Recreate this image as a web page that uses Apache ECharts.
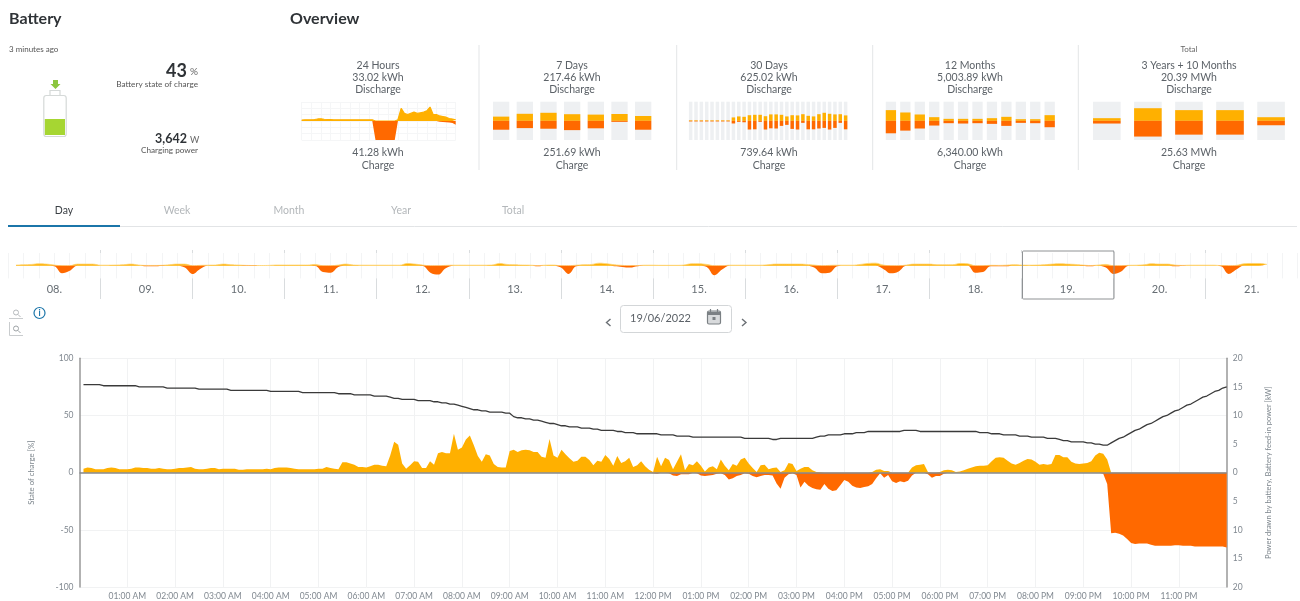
<!DOCTYPE html>
<html>
<head lang="en">
    <meta charset="UTF-8">
    <title>Battery</title>
    <style>
        html, body { margin: 0; padding: 0; background: #fff; }
        #main { width: 1300px; height: 601px; }
    </style>
</head>
<body>
<div id="main"></div>
<script src="https://cdn.jsdelivr.net/npm/echarts@6/dist/echarts.min.js"></script>
<script>
    // day view, one value every 5 minutes from 00:05 to 24:00, one line per hour
    var stateOfCharge = [
        77,77,77,77,77,76,76,76,76,76,76,76,
        76,76,75,75,75,75,75,75,75,74,74,74,
        74,74,74,74,74,73,73,73,73,73,73,73,
        73,72,72,72,72,72,72,72,72,72,72,71,
        71,71,71,71,71,71,71,70,70,70,70,70,
        70,70,70,70,69,69,69,69,68,68,68,68,
        68,67,67,67,67,66,65,65,64,64,64,64,
        63,63,63,63,62,62,61,61,60,60,59,58,
        57,56,55,55,54,54,53,53,53,53,52,52,
        49,48,48,47,47,46,46,45,44,43,43,42,
        41,41,40,40,40,39,39,39,38,38,37,37,
        37,37,36,36,35,35,35,34,34,34,34,34,
        34,33,33,33,33,32,32,32,32,31,31,31,
        31,31,31,31,31,31,31,31,31,31,30,30,
        30,30,30,30,30,29,29,30,30,30,30,30,
        30,30,30,30,31,32,32,33,33,33,33,34,
        34,34,35,35,35,36,36,36,36,36,36,36,
        36,36,37,37,37,37,36,36,36,36,36,36,
        36,36,36,36,36,36,36,36,36,35,35,35,
        34,34,34,33,33,33,33,32,32,32,31,31,
        31,31,30,30,30,29,28,28,27,27,27,27,
        26,26,25,25,24,24,26,28,30,31,33,35,
        37,38,40,42,43,45,47,49,50,52,54,55,
        57,59,60,62,64,66,67,69,71,72,74,75
    ];
    var batteryDischarge = [
        .7,.9,.8,.6,.6,.6,.8,.9,.8,.6,.6,.6,
        .7,.9,.9,.8,.8,.7,.7,.8,.7,.6,.6,.7,
        .8,.8,.9,1,.7,.6,.6,.7,.8,.8,.6,.7,
        .7,.7,.7,.5,.5,.6,.6,.6,.6,.6,.7,.6,
        .8,.9,.9,.9,.8,.7,.6,.6,.6,.6,.6,.7,
        .7,1,.8,.7,.6,1.8,1.8,1.6,1.4,1,1,.9,
        1.1,1.4,1.4,1.2,1.1,3,5.4,4.9,1.6,.7,1.3,2,
        1.9,.8,.8,2,1.4,3.4,3.6,3.4,3.4,6.8,4,4.4,
        5.8,6.5,4.8,2.9,1.9,3.2,3,1.5,1,.9,.9,3.8,
        4,3.6,3.9,4,3.9,3.6,3.6,2.8,2.6,5.9,3,2.6,
        4,3.2,2.5,1.9,2.1,2.8,2.8,2.2,1.3,2.1,1.9,3.1,
        2.4,1.2,2.9,1.7,2,2.6,1,1.3,2,1.1,.5,.1,
        2.8,1.1,2.6,2.2,.6,1.9,3.2,.4,1.5,1.3,2,1.2,
        .2,.9,1.1,.6,2.3,1.2,.4,1.5,1.2,2.3,2.6,1.6,
        .8,.1,1.3,1.4,.6,.8,.9,.1,.4,1.7,1.5,.3,
        .7,1,1,.4,.1,.05,0,0,0,0,0,0,
        0,0,0,0,0,0,.1,.5,.6,.3,.3,0,
        0,0,0,0,.9,1.3,1.4,1.5,.1,0,0,.1,
        .4,.5,.4,.1,.2,.4,.7,.9,1.1,1.2,1.2,1.3,
        2,2.6,2.7,2.6,2.1,1.6,1.4,1.7,2.1,2.4,2.3,1.9,
        1.4,1.5,1.4,1.5,3.1,3.1,2.7,2.7,1.9,1.6,1.5,1.6,
        1.7,2,3,3.5,3.3,2.3,0,0,0,0,0,0,
        0,0,0,0,0,0,0,0,0,0,0,0,
        0,0,0,0,0,0,0,0,0,0,0,0
    ];
    var batteryCharge = [
        0,0,0,0,0,0,0,0,0,0,0,0,
        0,0,0,0,0,0,0,0,0,0,0,0,
        0,0,0,0,0,0,0,0,0,0,0,0,
        0,0,0,0,0,0,0,0,0,0,0,0,
        0,0,0,0,0,0,0,0,0,0,0,0,
        0,0,0,0,0,0,0,0,0,0,0,0,
        0,0,0,0,0,0,0,0,0,0,0,0,
        0,0,0,0,0,0,0,0,0,0,0,0,
        0,0,0,0,0,0,0,0,0,0,0,0,
        0,0,0,0,0,0,0,0,0,0,0,0,
        0,0,0,0,0,0,0,0,0,0,0,0,
        0,0,0,0,0,0,0,0,0,0,0,.1,
        .2,0,0,.1,.5,.6,.3,.3,.3,0,.1,.5,
        .6,.5,.4,.2,.1,.4,1.2,1,.6,.4,.1,.2,
        .6,.8,.6,.4,.4,.5,1.9,2.8,.9,.3,.1,.4,
        2.6,1.6,2.3,2.7,2.9,3,2,2.8,3.2,3.1,2.2,1.3,
        1.6,2.3,2.6,2.7,2.5,2.4,2,1,.1,.9,.4,1.5,
        1.8,1.5,1.7,1.4,.5,0,0,0,.3,.9,.6,.6,
        .2,0,0,0,0,0,0,0,0,0,0,0,
        0,0,0,0,0,0,0,0,0,0,0,0,
        0,0,0,0,0,0,0,0,0,0,0,0,
        0,0,0,0,.2,2,10.6,10.5,10.7,11,11.6,12.3,
        12.5,12.4,12.4,12.4,12.6,12.8,12.8,12.8,12.8,12.8,12.7,12.7,
        12.8,12.8,12.8,12.9,12.9,12.9,12.9,12.9,12.9,12.9,12.9,13.1
    ];

    // strip over the day picker, one value every 2 hours, one line per day
    var dayLabels = ['08.','09.','10.','11.','12.','13.','14.','15.','16.','17.','18.','19.','20.','21.'];
    var stripDischarge = [
        null,1,1.5,2,3,2.5,1,0,0,2.5,2.5,2.5,
        .8,.8,1,1.5,2.5,1,.4,.4,.6,1.5,2.5,2.5,
        0,.5,.8,1,2.5,1.5,1,.5,.3,.3,.5,1,
        1,1,1,1,2,0,0,1,2.5,1,.8,.8,
        .8,.8,.8,.8,3.5,2.5,1,0,0,.5,.8,.8,
        .8,.8,.8,1,3.5,2,1.5,1,.8,.2,.8,1,
        0,0,.8,1.5,2,4,3,1.5,.5,0,.2,.8,
        .8,.6,.6,.6,1,3,3,2,0,0,.8,.8,
        .8,.8,.8,1.5,2.5,2.5,2.5,2.5,2,1,0,.5,
        .8,.8,.8,2,3.5,4,1,0,0,1,2.5,2.5,
        2.5,1.5,1.5,1.5,3.5,3,0,0,.6,.5,.8,1.5,
        1,.8,1,1.5,2.5,3,2.5,2,1,.3,1,2,
        0,0,.6,.8,1.5,3,2.5,2.5,1,.5,.8,.8,
        .8,.8,.2,0,.5,3,3.5,3.5,2,null,null,null
    ];
    var stripCharge = [
        0,0,0,0,0,0,1,12,8,0,0,0,
        0,0,0,0,0,0,1,1,.5,0,0,3,
        13,5,0,0,0,0,0,.6,.3,0,0,0,
        0,0,0,0,.5,10,11,2,0,0,0,0,
        0,0,0,0,0,0,.5,11,14,4,0,0,
        0,0,0,0,0,0,0,0,0,1,0,0,
        3,13,1,0,0,0,0,.8,2,3,1,0,
        0,0,0,0,0,0,0,2,15,6,0,0,
        0,0,0,0,0,0,0,0,0,3,12,11,
        1,0,0,0,0,0,5,12,9,0,0,0,
        0,0,0,0,0,0,11,10,1,1,1,0,
        0,0,0,0,0,0,0,0,.5,1,0,3,
        13,9,0,0,0,0,0,0,1,.5,0,0,
        0,0,1,13,6,0,0,0,.5,null,null,null
    ];

    // overview tiles
    var hours24Discharge = [.7,.9,1,1,1.2,1.6,1.7,1.4,1.2,1.1,1,1,1,1,1,1,1,1,1,1,1,1,1,0,0,0,0,0,0,0,1,10,6,5,6,7,6,6.5,7,8,11,5,5,4,3.5,3,2,1.5,1];
    var hours24Charge = [0,0,0,0,0,0,0,0,0,0,0,0,0,0,0,0,0,0,0,0,0,0,0,15,15,15,15,15,15,15,0,0,0,0,0,0,0,0,0,0,0,0,0,.5,.8,1,1.2,1.5,3];
    var days7Discharge = [21,35,40,33,31,34,24];
    var days7Charge = [44,36,39,46,37,5,44];
    var days30Discharge = [3,3,3,3,3,3,3,3,17,22,20,28,30,30,23,32,32,30,22,28,27,33,25,22,33,40,35,32,33,27];
    var days30Charge = [3,3,3,3,3,3,3,3,13,5,7,43,42,5,43,37,38,25,20,40,43,10,42,42,38,35,43,35,10,42];
    var months12Discharge = [1120,875,665,385,210,210,210,280,420,175,175,595];
    var months12Charge = [1300,1020,800,490,245,280,245,315,525,210,245,665];
    var totalDischarge = [1.4,6.6,5.6,5.6,1.9];
    var totalCharge = [1.4,8.2,7.2,7.2,2.3];
    var batteryLevel = [43];

    var tiles = [
        {center: 378, top: '24 Hours', discharge: '33.02 kWh', charge: '41.28 kWh'},
        {center: 572, top: '7 Days', discharge: '217.46 kWh', charge: '251.69 kWh'},
        {center: 769, top: '30 Days', discharge: '625.02 kWh', charge: '739.64 kWh'},
        {center: 970, top: '12 Months', discharge: '5,003.89 kWh', charge: '6,340.00 kWh'},
        {center: 1189, top: '3 Years + 10 Months', discharge: '20.39 MWh', charge: '25.63 MWh'}
    ];
    var tabs = [['Day', 64], ['Week', 177], ['Month', 289], ['Year', 401], ['Total', 513]];

    var YELLOW = '#ffb000', ORANGE = '#ff6900', FONT = 'Lato';

    var grids = [], xAxes = [], yAxes = [], series = [], graphics = [];

    // returns the axis index, the right kW axis makes it differ from the grid index
    function addGrid(rect, xAxis, yAxis) {
        rect.containLabel = false;
        grids.push(rect);
        xAxis.gridIndex = grids.length - 1;
        yAxis.gridIndex = grids.length - 1;
        xAxes.push(xAxis);
        yAxes.push(yAxis);
        return xAxes.length - 1;
    }

    function negative(list) {
        return list.map(function (v) { return v === null ? null : -v; });
    }

    function text(str, x, y, size, color, align, weight) {
        graphics.push({
            type: 'text', z: 20, silent: true,
            style: {
                x: x, y: y, text: str, fill: color, textAlign: align || 'left', textVerticalAlign: 'middle',
                font: (weight || 'normal') + ' ' + size + 'px ' + FONT
            }
        });
    }

    function shape(type, geom, style) {
        graphics.push({type: type, z: 15, silent: true, shape: geom, style: style});
    }

    function areaSeries(axis, points, color, extra) {
        var s = {
            type: 'line', xAxisIndex: axis, yAxisIndex: axis, data: points, symbol: 'none',
            lineStyle: {width: 0, color: color}, itemStyle: {color: color},
            areaStyle: {color: color, opacity: 1}, silent: true
        };
        for (var k in extra) { s[k] = extra[k]; }
        return s;
    }

    // samples as [x, value] pairs on a value axis
    function pairs(list, start, step) {
        return list.map(function (v, i) { return [start + i * step, v]; });
    }

    function hourLabel(minutes) {
        if (minutes <= 0 || minutes >= 1440) { return ''; }
        var h = minutes / 60, pm = h >= 12, h12 = h % 12 === 0 ? 12 : h % 12;
        return (h12 < 10 ? '0' : '') + h12 + ':00 ' + (pm ? 'PM' : 'AM');
    }

    // ---- main day chart
    var mainX = {
        type: 'value', min: 0, max: 1440, interval: 60,
        axisLine: {show: false}, axisTick: {show: false},
        axisLabel: {formatter: hourLabel, color: '#808890', fontSize: 8.5, fontFamily: FONT, margin: 5, hideOverlap: false},
        splitLine: {show: true, showMinLine: false, showMaxLine: false, lineStyle: {color: '#f1f2f3', width: 1}}
    };
    var mainLeft = {
        type: 'value', min: -100, max: 100, interval: 50,
        name: 'State of charge [%]', nameLocation: 'middle', nameGap: 44, nameRotate: 90,
        nameTextStyle: {color: '#7c858c', fontSize: 7.8, fontFamily: FONT},
        axisLine: {show: true, lineStyle: {color: '#999', width: 1.5}}, axisTick: {show: false},
        axisLabel: {color: '#808890', fontSize: 8.5, fontFamily: FONT, margin: 6},
        splitLine: {show: true, lineStyle: {color: '#f1f2f3', width: 1}}
    };
    var main = addGrid({left: 79.5, top: 358.3, width: 1147.2, height: 231}, mainX, mainLeft);
    // right kW axis shares the grid
    xAxes.push({type: 'value', gridIndex: 0, min: 0, max: 1440, show: false});
    yAxes.push({
        type: 'value', gridIndex: 0, position: 'right', min: -20, max: 20, interval: 5,
        name: 'Power drawn by battery, Battery feed-in power [kW]', nameLocation: 'middle', nameGap: 38, nameRotate: 90,
        nameTextStyle: {color: '#7c858c', fontSize: 7.5, fontFamily: FONT},
        axisLine: {show: true, onZero: false, lineStyle: {color: '#999', width: 1.5}}, axisTick: {show: false},
        axisLabel: {color: '#808890', fontSize: 8.5, fontFamily: FONT, margin: 6, formatter: function (v) { return Math.abs(v); }},
        splitLine: {show: false}
    });
    var mainKw = xAxes.length - 1;

    series.push(areaSeries(mainKw, pairs(batteryDischarge, 5, 5), YELLOW, {z: 2}));
    series.push(areaSeries(mainKw, pairs(negative(batteryCharge), 5, 5), ORANGE, {
        z: 3,
        markLine: {
            silent: true, symbol: 'none', label: {show: false}, animation: false,
            lineStyle: {color: '#86888a', width: 1.5, type: 'solid'},
            data: [{yAxis: 0}]
        }
    }));
    series.push({
        type: 'line', xAxisIndex: main, yAxisIndex: main, data: pairs(stateOfCharge, 5, 5), symbol: 'none', z: 4,
        lineStyle: {color: '#3a3a3a', width: 1.3}, silent: true
    });

    // ---- day strip: dividers and labels
    addGrid({left: 8.3, top: 250, width: 1289.4, height: 49},
        {
            type: 'category', data: dayLabels, axisLine: {show: false}, axisTick: {show: false},
            axisLabel: {inside: true, margin: 4, color: '#666d73', fontSize: 11, fontFamily: FONT, interval: 0},
            splitLine: {show: true, interval: 0, showMinLine: false, showMaxLine: false, lineStyle: {color: '#d9dcde', width: 1}}
        },
        {type: 'value', show: false, min: 0, max: 1});
    // ---- day strip: areas
    var strip = addGrid({left: 8.3, top: 253, width: 1289.4, height: 25.4},
        {
            type: 'value', min: 0, max: 168, interval: 2, axisLine: {show: false}, axisTick: {show: false}, axisLabel: {show: false},
            splitLine: {show: true, lineStyle: {color: '#f3f4f5', width: 1}}
        },
        {type: 'value', show: false, min: -20, max: 20});
    series.push(areaSeries(strip, pairs(stripDischarge, 0, 1), YELLOW, {smooth: 0.4, z: 2, lineStyle: {width: .8, color: '#ffd36e'}}));
    series.push(areaSeries(strip, pairs(negative(stripCharge), 0, 1), ORANGE, {smooth: 0.4, z: 3}));

    // ---- overview, 24 hours
    var day = addGrid({left: 301.7, top: 102, width: 154, height: 38},
        {
            type: 'value', min: 0, max: 48, interval: 3, axisLine: {show: false}, axisTick: {show: false}, axisLabel: {show: false},
            splitLine: {show: true, lineStyle: {color: '#f5f6f7', width: 1}}
        },
        {
            type: 'value', min: -15, max: 15, interval: 5, axisLine: {show: false}, axisTick: {show: false}, axisLabel: {show: false},
            splitLine: {show: true, lineStyle: {color: '#f5f6f7', width: 1}}
        });
    series.push(areaSeries(day, pairs(hours24Discharge, 0, 1), YELLOW, {z: 2, lineStyle: {width: 1.2, color: YELLOW}}));
    series.push(areaSeries(day, pairs(negative(hours24Charge), 0, 1), ORANGE, {z: 3}));

    // ---- overview, bar tiles
    function barTile(rect, barWidth, limit, discharge, charge) {
        var i = addGrid(rect,
            {type: 'category', show: false, data: discharge.map(function (v, n) { return n; })},
            {type: 'value', show: false, min: -limit, max: limit});
        var base = {
            type: 'bar', xAxisIndex: i, yAxisIndex: i, barWidth: barWidth, barGap: '-100%', silent: true,
            animation: false
        };
        series.push(Object.assign({}, base, {
            data: discharge, itemStyle: {color: YELLOW},
            showBackground: true, backgroundStyle: {color: '#eef0f2'}
        }));
        series.push(Object.assign({}, base, {data: negative(charge), itemStyle: {color: ORANGE}}));
    }
    barTile({left: 489.3, top: 101.7, width: 165.7, height: 38.3}, 16.3, 95, days7Discharge, days7Charge);
    barTile({left: 688, top: 101.7, width: 160.3, height: 38.3}, 3.5, 95, days30Discharge, days30Charge);
    barTile({left: 883.7, top: 101.7, width: 173.2, height: 38.3}, 10.3, 2000, months12Discharge, months12Charge);
    barTile({left: 1086.3, top: 101.7, width: 205.3, height: 38.3}, 27.6, 10, totalDischarge, totalCharge);

    // ---- battery fill
    var batt = addGrid({left: 44.7, top: 97.8, width: 20.3, height: 37.2},
        {type: 'category', show: false, data: ['soc']},
        {type: 'value', show: false, min: 0, max: 100});
    series.push({type: 'bar', xAxisIndex: batt, yAxisIndex: batt, barWidth: 20.3, data: batteryLevel, itemStyle: {color: '#a6d632'}, silent: true});

    // ---- page furniture
    text('Battery', 9, 19, 16, '#2f3337', 'left', 'bold');
    text('Overview', 290, 19, 16, '#2f3337', 'left', 'bold');
    text('3 minutes ago', 9, 49, 8, '#555', 'left');
    text('43', 187, 71, 18, '#2f3337', 'right', 'bold');
    text('%', 190, 72, 10, '#666', 'left');
    text('Battery state of charge', 198, 84, 8.2, '#555', 'right');
    text('3,642', 187, 139, 12.5, '#2f3337', 'right', 'bold');
    text('W', 190, 140, 9, '#666', 'left');
    text('Charging power', 198, 150, 8.2, '#555', 'right');

    shape('rect', {x: 43.8, y: 95.5, width: 22.4, height: 41, r: 2.5}, {fill: 'none', stroke: '#d5d9d8', lineWidth: 1.2});
    shape('polyline', {points: [[50, 95], [50, 90.5], [60, 90.5], [60, 95]]}, {fill: 'none', stroke: '#d5d9d8', lineWidth: 1.2});
    shape('polygon', {points: [[53, 80], [58, 80], [58, 84], [60.5, 84], [55.5, 89], [50.5, 84], [53, 84]]}, {fill: '#8cc63f'});

    tiles.forEach(function (t) {
        text(t.top, t.center, 66, 10.5, '#5c6268', 'center');
        text(t.discharge, t.center, 78, 10.5, '#5c6268', 'center');
        text('Discharge', t.center, 90, 10.5, '#5c6268', 'center');
        text(t.charge, t.center, 153, 10.5, '#5c6268', 'center');
        text('Charge', t.center, 166, 10.5, '#5c6268', 'center');
    });
    text('Total', 1189, 49, 8, '#666', 'center');
    [479, 676.7, 872.7, 1078.3].forEach(function (x) {
        shape('line', {x1: x, y1: 45, x2: x, y2: 170}, {stroke: '#e3e5e7', lineWidth: 1});
    });

    tabs.forEach(function (t, i) {
        text(t[0], t[1], 211, 10.5, i === 0 ? '#3a3f44' : '#b3b7ba', 'center');
    });
    shape('line', {x1: 120, y1: 226.5, x2: 1297, y2: 226.5}, {stroke: '#e2e4e6', lineWidth: 1});
    shape('line', {x1: 8, y1: 226, x2: 120, y2: 226}, {stroke: '#1b75a9', lineWidth: 2});

    // selected day
    shape('rect', {x: 1022.5, y: 251, width: 91.5, height: 48, r: 1}, {fill: 'none', stroke: '#8f9294', lineWidth: 1});

    // zoom buttons and info
    shape('circle', {cx: 16, cy: 312.5, r: 2.5}, {fill: 'none', stroke: '#b5b9bc', lineWidth: 1});
    shape('line', {x1: 18, y1: 314.5, x2: 20.5, y2: 317}, {stroke: '#b5b9bc', lineWidth: 1});
    shape('line', {x1: 9, y1: 318.5, x2: 23, y2: 318.5}, {stroke: '#c9ccce', lineWidth: 1});
    shape('circle', {cx: 16, cy: 328.5, r: 2.5}, {fill: 'none', stroke: '#9ea3a6', lineWidth: 1});
    shape('line', {x1: 18, y1: 330.5, x2: 20.5, y2: 333}, {stroke: '#9ea3a6', lineWidth: 1});
    shape('polyline', {points: [[9.5, 322], [9.5, 335.5], [23, 335.5]]}, {fill: 'none', stroke: '#c9ccce', lineWidth: 1});
    shape('circle', {cx: 39.5, cy: 313, r: 5.5}, {fill: 'none', stroke: '#1b75a9', lineWidth: 1.2});
    text('i', 39.5, 313, 8.5, '#1b75a9', 'center', 'bold');

    // date picker
    shape('polyline', {points: [[610.5, 319], [606.5, 322.5], [610.5, 326]]}, {fill: 'none', stroke: '#6b7075', lineWidth: 1.4});
    shape('rect', {x: 620.5, y: 305.5, width: 111, height: 27, r: 3}, {fill: '#fff', stroke: '#d3d6d8', lineWidth: 1});
    text('19/06/2022', 630, 318, 11, '#5c6268', 'left');
    shape('rect', {x: 707.5, y: 311, width: 13, height: 13, r: 1.5}, {fill: '#d8dadc', stroke: '#7b8084', lineWidth: 1.2});
    shape('line', {x1: 707.5, y1: 313.5, x2: 720.5, y2: 313.5}, {stroke: '#7b8084', lineWidth: 3});
    shape('line', {x1: 710.5, y1: 309, x2: 710.5, y2: 312}, {stroke: '#7b8084', lineWidth: 1.2});
    shape('line', {x1: 717.5, y1: 309, x2: 717.5, y2: 312}, {stroke: '#7b8084', lineWidth: 1.2});
    shape('rect', {x: 712.5, y: 317, width: 3, height: 3}, {fill: '#7b8084'});
    shape('polyline', {points: [[742, 319], [746, 322.5], [742, 326]]}, {fill: 'none', stroke: '#6b7075', lineWidth: 1.4});

    var chart = echarts.init(document.getElementById('main'), null, {renderer: 'canvas'});
    chart.setOption({
        animation: false,
        backgroundColor: '#fff',
        textStyle: {fontFamily: FONT},
        grid: grids,
        xAxis: xAxes,
        yAxis: yAxes,
        series: series,
        graphic: {elements: graphics}
    });
</script>
</body>
</html>
